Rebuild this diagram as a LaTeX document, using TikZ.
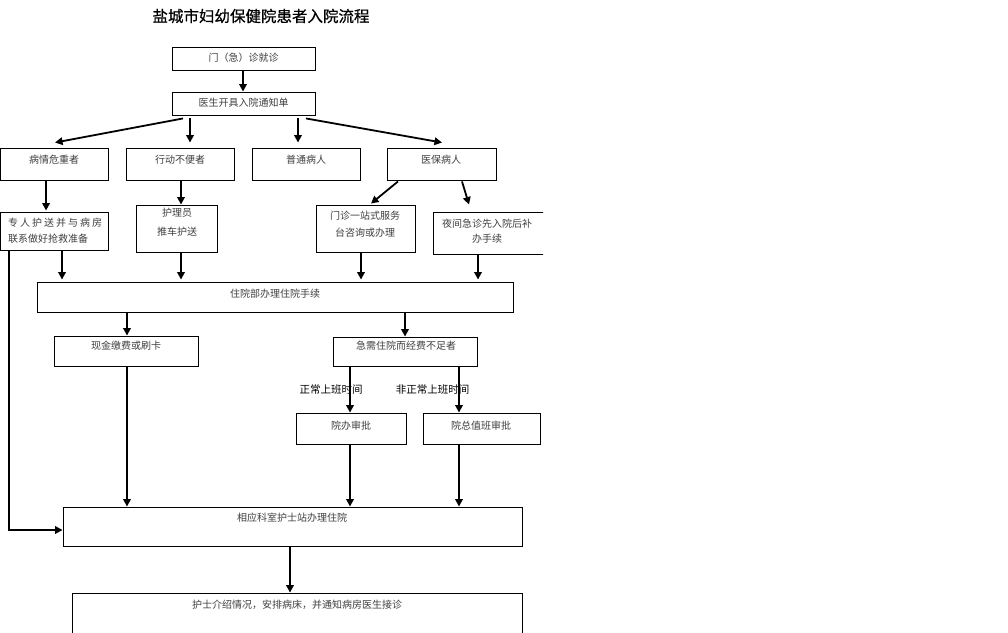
\documentclass[tikz,border=0pt]{standalone}
\usepackage{fontspec}
\setmainfont{Noto Sans CJK SC}
\usetikzlibrary{arrows.meta,calc,fit}
\begin{document}
\begin{tikzpicture}[x=1pt,y=-1pt,
  box/.style={draw=black, line width=0.9pt, inner sep=0pt},
  txt/.style={font=\fontsize{10}{12}\selectfont, text=black!75, inner sep=0pt},
  lab/.style={font=\fontsize{10.5}{12}\selectfont, text=black, inner sep=0pt},
  arr/.style={line width=1.8pt, -{Triangle[length=7.5pt,width=7.5pt]}}]
\fill[white] (0,0) rectangle (1008,632);
\useasboundingbox (0,0) rectangle (1008,632);

\node[font=\fontsize{15.5}{18}\selectfont\addfontfeature{FakeBold=0.6}, inner sep=0pt] (title) at (261,16) {盐城市妇幼保健院患者入院流程};

\begin{scope}
\clip (0,0) rectangle (543,632);
% boxes
\node[box, fit={(172,47) (315,70)}] (b1) {};
\node[box, fit={(172,92) (315,115)}] (b2) {};
\node[box, fit={(0.7,148) (108,180)}] (r1) {};
\node[box, fit={(126,148) (234,180)}] (r2) {};
\node[box, fit={(252,148) (360,180)}] (r3) {};
\node[box, fit={(387,148) (496,180)}] (r4) {};
\node[box, fit={(0.7,212) (108,250)}] (s1) {};
\node[box, fit={(136,205) (217,252)}] (s2) {};
\node[box, fit={(316,205) (415,252)}] (s3) {};
\node[box, fit={(433,212) (560,254)}] (s4) {};
\node[box, fit={(37,282) (513,312)}] (zy) {};
\node[box, fit={(54,336) (198,366)}] (xj) {};
\node[box, fit={(333,337) (477,366)}] (jx) {};
\node[box, fit={(296,413) (406,444)}] (yb) {};
\node[box, fit={(423,413) (540,444)}] (yz) {};
\node[box, fit={(63,507) (522,546)}] (xy) {};
\node[box, fit={(72,593) (522,700)}] (hs) {};

% texts
\node[txt] (b1t) at (243.5,58) {门（急）诊就诊};
\node[txt] (b2t) at (243.5,103) {医生开具入院通知单};
\node[txt] (r1t) at (54,160) {病情危重者};
\node[txt] (r2t) at (180,160) {行动不便者};
\node[txt] (r3t) at (306,160) {普通病人};
\node[txt] (r4t) at (441,160) {医保病人};
\node[txt, anchor=west] (s1ta) at (8,223) {\hbox to 94pt{专\hfil 人\hfil 护\hfil 送\hfil 并\hfil 与\hfil 病\hfil 房}};
\node[txt, anchor=west] (s1tb) at (8,239) {联系做好抢救准备};
\node[txt] (s2ta) at (177,213) {护理员};
\node[txt] (s2tb) at (177,232) {推车护送};
\node[txt] (s3ta) at (365,216) {门诊一站式服务};
\node[txt] (s3tb) at (365,233) {台咨询或办理};
\node[txt] (s4ta) at (487,224) {夜间急诊先入院后补};
\node[txt] (s4tb) at (487,239) {办手续};
\node[txt] (zyt) at (275,294) {住院部办理住院手续};
\node[txt] (xjt) at (126,346) {现金缴费或刷卡};
\node[txt] (jxt) at (406,346) {急需住院而经费不足者};
\node[txt] (ybt) at (351,426) {院办审批};
\node[txt] (yzt) at (481,426) {院总值班审批};
\node[txt] (xyt) at (292,518) {相应科室护士站办理住院};
\node[txt] (hst) at (297,605) {护士介绍情况，安排病床，并通知病房医生接诊};

\node[lab] (l1) at (331,390) {正常上班时间};
\node[lab] (l2) at (432.5,390) {非正常上班时间};

% connectors
\draw[arr] ([xshift=-0.5pt]b1.south) -- ([xshift=-0.5pt]b2.north);
\draw[arr] ([xshift=-60.5pt,yshift=-3pt]b2.south) -- ([xshift=0.7pt,yshift=5pt]r1.north);
\draw[arr] ([xshift=-53.5pt,yshift=-3pt]b2.south) -- ([xshift=10pt,yshift=5pt]r2.north);
\draw[arr] ([xshift=54.5pt,yshift=-3pt]b2.south) -- ([xshift=-8pt,yshift=5pt]r3.north);
\draw[arr] ([xshift=62.5pt,yshift=-3pt]b2.south) -- ([xshift=0.5pt,yshift=5pt]r4.north);

\draw[arr] ([xshift=-8.3pt]r1.south) -- ([xshift=-8.3pt,yshift=1pt]s1.north);
\draw[arr] ([xshift=1pt]r2.south) -- ([xshift=4.5pt]s2.north);
\draw[arr] ([xshift=-43.5pt,yshift=-1pt]r4.south) -- ([xshift=5.5pt,yshift=1pt]s3.north);
\draw[arr] ([xshift=20.5pt,yshift=-1pt]r4.south) -- ([xshift=-27.5pt,yshift=7pt]s4.north);

\draw[arr] ([xshift=7.7pt]s1.south) -- ([yshift=2pt]62,0 |- zy.north);
\draw[arr] ([xshift=4.5pt]s2.south) -- ([yshift=2pt]181,0 |- zy.north);
\draw[arr] ([xshift=-4.5pt]s3.south) -- ([yshift=2pt]361,0 |- zy.north);
\draw[arr] ([xshift=-18.5pt]s4.south) -- ([yshift=2pt]478,0 |- zy.north);

\draw[arr] ([xshift=-148pt]zy.south) -- (127,0 |- xj.north);
\draw[arr] ([xshift=130pt]zy.south) -- (405,0 |- jx.north);
\draw[arr] ([xshift=1pt]xj.south) -- (127,0 |- xy.north);
\draw[arr] ([xshift=-55pt]jx.south) -- (350,0 |- yb.north);
\draw[arr] ([xshift=54pt]jx.south) -- (459,0 |- yz.north);
\draw[arr] ([xshift=-1pt]yb.south) -- (350,0 |- xy.north);
\draw[arr] ([xshift=-22.5pt]yz.south) -- (459,0 |- xy.north);
\draw[arr] ([xshift=-45.3pt]s1.south) |- ([yshift=-3.5pt]xy.west);
\draw[arr] ([xshift=-2.5pt]xy.south) -- (290,0 |- hs.north);
\end{scope}
\end{tikzpicture}
\end{document}
